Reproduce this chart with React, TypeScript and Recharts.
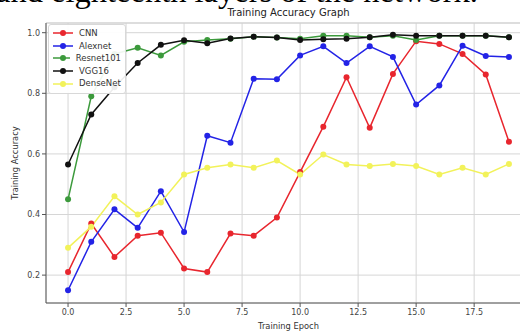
import React from "react";
import {
  LineChart,
  Line,
  XAxis,
  YAxis,
  CartesianGrid,
  ReferenceLine,
} from "recharts";

const epochs = [0, 1, 2, 3, 4, 5, 6, 7, 8, 9, 10, 11, 12, 13, 14, 15, 16, 17, 18, 19];
const cnn = [0.21, 0.37, 0.26, 0.33, 0.34, 0.222, 0.21, 0.337, 0.33, 0.39, 0.54, 0.69, 0.853, 0.686, 0.864, 0.972, 0.963, 0.93, 0.862, 0.64];
const alexnet = [0.15, 0.31, 0.417, 0.356, 0.477, 0.342, 0.66, 0.637, 0.848, 0.846, 0.925, 0.955, 0.9, 0.955, 0.92, 0.763, 0.826, 0.957, 0.923, 0.92];
const resnet101 = [0.45, 0.79, 0.93, 0.95, 0.925, 0.97, 0.976, 0.98, 0.987, 0.984, 0.98, 0.99, 0.99, 0.985, 0.99, 0.976, 0.99, 0.99, 0.99, 0.985];
const vgg16 = [0.565, 0.73, 0.82, 0.9, 0.96, 0.975, 0.965, 0.981, 0.987, 0.984, 0.976, 0.978, 0.98, 0.985, 0.993, 0.99, 0.99, 0.99, 0.99, 0.985];
const densenet = [0.29, 0.36, 0.46, 0.4, 0.44, 0.532, 0.554, 0.565, 0.554, 0.578, 0.532, 0.598, 0.565, 0.56, 0.567, 0.56, 0.532, 0.554, 0.532, 0.567];

const xTicks = [0, 2.5, 5, 7.5, 10, 12.5, 15, 17.5];
const yTicks = [0.2, 0.4, 0.6, 0.8, 1.0];

const seriesNames = ["CNN", "Alexnet", "Resnet101", "VGG16", "DenseNet"];
const seriesKeys = ["cnn", "alexnet", "resnet101", "vgg16", "densenet"];
const seriesColors = ["#e8262e", "#2323e6", "#3c9a3c", "#111111", "#f2f25a"];

const data = epochs.map((e, i) => ({
  epoch: e,
  cnn: cnn[i],
  alexnet: alexnet[i],
  resnet101: resnet101[i],
  vgg16: vgg16[i],
  densenet: densenet[i],
}));

const FONT = "DejaVu Sans, Liberation Sans, sans-serif";

const LegendBox = () => (
  <div
    style={{
      position: "absolute",
      left: 48,
      top: 24,
      background: "rgba(255,255,255,0.92)",
      border: "1px solid #d8d8d8",
      borderRadius: 3,
      padding: "2px 4px 3px 4px",
      width: 68,
      fontFamily: FONT,
      fontSize: 8.5,
      color: "#333",
      lineHeight: "12.6px",
    }}
  >
    {seriesNames.map((n, i) => (
      <div key={n} style={{ display: "flex", alignItems: "center", height: 12.6 }}>
        <svg width={20} height={10} style={{ marginRight: 6 }}>
          <line x1={0} y1={5} x2={20} y2={5} stroke={seriesColors[i]} strokeWidth={1.5} />
          <circle cx={10} cy={5} r={3} fill={seriesColors[i]} />
        </svg>
        <span>{n}</span>
      </div>
    ))}
  </div>
);

export default function App() {
  return (
    <div
      style={{
        position: "fixed",
        left: 0,
        top: 0,
        width: 520,
        height: 332,
        overflow: "hidden",
        background: "#fff",
      }}
    >
      <svg width={520} height={20} style={{ position: "absolute", left: 0, top: 0 }}>
        <text x={-4} y={2} fontSize={32.5} fontFamily="Liberation Serif, serif" fill="#000">
          and eighteenth layers of the network.
        </text>
      </svg>
      <div
        style={{
          position: "absolute",
          left: 0,
          top: 7,
          width: 577,
          textAlign: "center",
          fontFamily: FONT,
          fontSize: 10,
          color: "#222",
        }}
      >
        Training Accuracy Graph
      </div>
      <div style={{ position: "absolute", left: 0, top: 0 }}>
        <LineChart
          width={540}
          height={332}
          data={data}
          margin={{ top: 23, right: 9, left: 0, bottom: 0 }}
        >
          <CartesianGrid stroke="#d6d6d6" strokeWidth={1} />
          <ReferenceLine y={1.032} stroke="#cfcfcf" ifOverflow="visible" />
          <XAxis
            dataKey="epoch"
            type="number"
            domain={[-0.95, 19.95]}
            ticks={xTicks}
            tickFormatter={(v: number) => v.toFixed(1)}
            tick={{ fontSize: 8, fill: "#444", fontFamily: FONT }}
            tickSize={4}
            axisLine={{ stroke: "#555" }}
            tickLine={{ stroke: "#555" }}
            height={29}
            label={{
              value: "Training Epoch",
              position: "insideBottom",
              offset: 3,
              style: { fontSize: 8.3, fill: "#333", fontFamily: FONT },
            }}
          />
          <YAxis
            type="number"
            domain={[0.108, 1.032]}
            ticks={yTicks}
            tickFormatter={(v: number) => v.toFixed(1)}
            tick={{ fontSize: 8, fill: "#444", fontFamily: FONT }}
            tickSize={4}
            axisLine={{ stroke: "#555" }}
            tickLine={{ stroke: "#555" }}
            width={46}
            label={{
              content: (props: any) => {
                const vb = props.viewBox || { x: 0, y: 23, width: 46, height: 280 };
                const cx = vb.x + 15;
                const cy = vb.y + vb.height / 2;
                return (
                  <text
                    x={cx}
                    y={cy}
                    transform={`rotate(-90 ${cx} ${cy})`}
                    textAnchor="middle"
                    dominantBaseline="central"
                    fontSize={8.3}
                    fill="#333"
                    fontFamily={FONT}
                  >
                    Training Accuracy
                  </text>
                );
              },
            }}
          />
          {seriesKeys.map((k, i) => (
            <Line
              key={k}
              type="linear"
              dataKey={k}
              name={seriesNames[i]}
              stroke={seriesColors[i]}
              strokeWidth={1.5}
              dot={{ r: 3, fill: seriesColors[i], stroke: seriesColors[i], strokeWidth: 0 }}
              activeDot={false}
              isAnimationActive={false}
            />
          ))}
        </LineChart>
      </div>
      <LegendBox />
    </div>
  );
}
